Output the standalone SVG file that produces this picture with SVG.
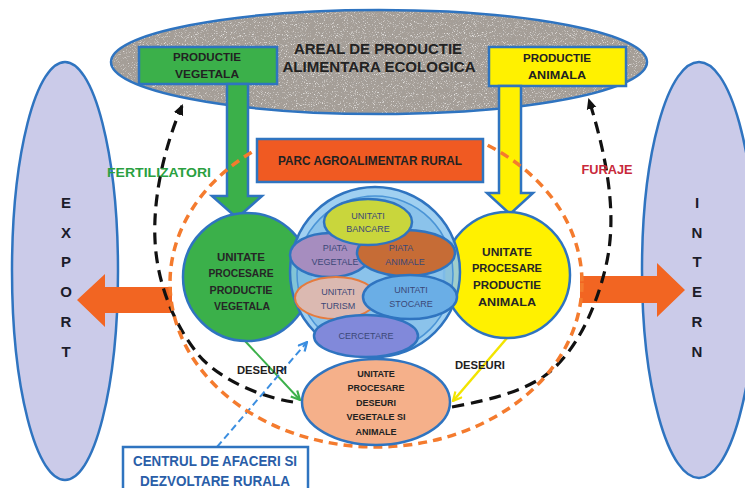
<svg xmlns="http://www.w3.org/2000/svg" width="745" height="488" viewBox="0 0 745 488">
<defs>
<style>
text{font-family:"Liberation Sans","DejaVu Sans",Arial,sans-serif;text-anchor:middle}
.b{font-weight:bold}
.dk{fill:#222}
.ln{stroke:#2f74c0;stroke-width:2.5}
.in{font-size:9px;fill:#3b4878}
.big{font-size:11px;font-weight:bold;fill:#262626}
.side{font-size:15px;font-weight:bold;fill:#1c1c2a}
.lbl{font-size:11px;font-weight:bold;fill:#1e1e1e}
.loop{fill:none;stroke:#111;stroke-width:3.2;stroke-dasharray:12 7}
</style>
<filter id="speckle" x="0" y="0" width="1" height="1">
<feTurbulence type="fractalNoise" baseFrequency="1.1" numOctaves="2" seed="7" result="noise"/>
<feColorMatrix in="noise" type="matrix" values="0 0 0 0 0.36  0 0 0 0 0.34  0 0 0 0 0.32  4 0 0 0 -2.1" result="dark"/>
<feColorMatrix in="noise" type="matrix" values="0 0 0 0 0.8  0 0 0 0 0.78  0 0 0 0 0.76  -4 0 0 0 1.7" result="light"/>
<feMerge result="m"><feMergeNode in="SourceGraphic"/><feMergeNode in="dark"/><feMergeNode in="light"/></feMerge>
<feComposite in="m" in2="SourceGraphic" operator="in"/>
</filter>
<clipPath id="parcClip"><path clip-rule="evenodd" d="M0,0H745V488H0Z M257,0H483V182H257Z"/></clipPath>
<marker id="ahBlack" viewBox="0 0 10 10" refX="8" refY="5" markerWidth="11" markerHeight="11" orient="auto" markerUnits="userSpaceOnUse"><path d="M0,0.5 L10,5 L0,9.5 Z" fill="#111"/></marker>
<marker id="ahGreen" viewBox="0 0 10 10" refX="9" refY="5" markerWidth="11" markerHeight="11" orient="auto" markerUnits="userSpaceOnUse"><path d="M1,1 L9,5 L1,9" fill="none" stroke="#3bb04a" stroke-width="2"/></marker>
<marker id="ahYellow" viewBox="0 0 10 10" refX="9" refY="5" markerWidth="11" markerHeight="11" orient="auto" markerUnits="userSpaceOnUse"><path d="M1,1 L9,5 L1,9" fill="none" stroke="#f2e400" stroke-width="2"/></marker>
<marker id="ahBlue" viewBox="0 0 10 10" refX="9" refY="5" markerWidth="11" markerHeight="11" orient="auto" markerUnits="userSpaceOnUse"><path d="M1,1 L9,5 L1,9" fill="none" stroke="#3b8ee0" stroke-width="2"/></marker>
</defs>
<rect width="745" height="488" fill="#fff"/>

<g id="export">
<ellipse cx="65" cy="271" rx="53" ry="209" fill="#cbcbe9" class="ln" stroke-width="2"/>
<text class="side" x="66" y="208">E</text>
<text class="side" x="66" y="238">X</text>
<text class="side" x="66" y="267">P</text>
<text class="side" x="66" y="297">O</text>
<text class="side" x="66" y="327">R</text>
<text class="side" x="66" y="357">T</text>
</g>
<g id="intern">
<ellipse cx="699" cy="270" rx="57" ry="208" fill="#cbcbe9" class="ln" stroke-width="2"/>
<text class="side" x="697" y="208">I</text>
<text class="side" x="697" y="238">N</text>
<text class="side" x="697" y="267">T</text>
<text class="side" x="697" y="297">E</text>
<text class="side" x="697" y="327">R</text>
<text class="side" x="697" y="357">N</text>
</g>

<g id="areal">
<ellipse cx="379" cy="62" rx="268" ry="52" fill="#a59e97" filter="url(#speckle)"/>
<ellipse cx="379" cy="62" rx="268" ry="52" fill="none" class="ln"/>
<text class="b dk" x="378" y="54" font-size="14" textLength="168" lengthAdjust="spacingAndGlyphs">AREAL DE PRODUCTIE</text>
<text class="b dk" x="379" y="72" font-size="14" textLength="193" lengthAdjust="spacingAndGlyphs">ALIMENTARA ECOLOGICA</text>
</g>
<g id="productie-vegetala">
<rect x="139" y="47" width="138" height="37" fill="#3bb04a" class="ln"/>
<text class="b dk" x="207" y="61" font-size="10.5" textLength="68" lengthAdjust="spacingAndGlyphs">PRODUCTIE</text>
<text class="b dk" x="207" y="78" font-size="10.5" textLength="64" lengthAdjust="spacingAndGlyphs">VEGETALA</text>
</g>
<g id="productie-animala">
<rect x="489" y="47" width="137" height="39" fill="#fff100" class="ln"/>
<text class="b dk" x="557" y="62" font-size="10.5" textLength="68" lengthAdjust="spacingAndGlyphs">PRODUCTIE</text>
<text class="b dk" x="557" y="79" font-size="10.5" textLength="58" lengthAdjust="spacingAndGlyphs">ANIMALA</text>
</g>

<g id="connectors">
<polygon points="227,84 248,84 248,196 262,196 237,218 212,196 227,196" fill="#3bb04a" class="ln" stroke-width="2"/>
<polygon points="499,86 521,86 521,193 533,193 510,214 487,193 499,193" fill="#fff100" class="ln" stroke-width="2"/>
<polygon points="172,287 105,287 105,274 77,300 105,327 105,313 172,313" fill="#f26522"/>
<polygon points="580,276 657,276 657,263 685,290 657,317 657,303 580,303" fill="#f26522"/>
<path class="loop" d="M293,402 C255,396 215,376 197,353 C175,325 157,285 155,240 C153,200 163,150 182,106" marker-end="url(#ahBlack)"/>
<path class="loop" d="M452,407 C490,400 520,392 543,377 C575,355 595,310 605,270 C615,230 614,180 589,100" marker-end="url(#ahBlack)"/>
<line x1="245" y1="341" x2="300" y2="400" stroke="#3bb04a" stroke-width="2" marker-end="url(#ahGreen)"/>
<line x1="507" y1="338" x2="453" y2="401" stroke="#f2e400" stroke-width="2.5" marker-end="url(#ahYellow)"/>
<line x1="217" y1="447" x2="307" y2="342" stroke="#3b8ee0" stroke-width="2" stroke-dasharray="7 4" marker-end="url(#ahBlue)"/>
</g>

<g id="parc-boundary">
<ellipse cx="376" cy="283" rx="206" ry="164" fill="none" stroke="#f47b2e" stroke-width="3.5" stroke-dasharray="9 6" clip-path="url(#parcClip)"/>
</g>

<g id="fertilizatori"><text class="b" x="159" y="177" font-size="13" fill="#2aa040" textLength="104" lengthAdjust="spacingAndGlyphs">FERTILIZATORI</text></g>
<g id="furaje"><text class="b" x="607" y="174" font-size="13" fill="#c8283a" textLength="51" lengthAdjust="spacingAndGlyphs">FURAJE</text></g>

<g id="parc-agroalimentar">
<rect x="257" y="139" width="226" height="43" fill="#f05a22" class="ln"/>
<text class="b dk" x="370" y="165" font-size="12" textLength="184" lengthAdjust="spacingAndGlyphs">PARC AGROALIMENTAR RURAL</text>
</g>

<g id="unitate-vegetala">
<circle cx="247" cy="277" r="64" fill="#3bb04a" class="ln"/>
<text class="big" x="241" y="261" textLength="48" lengthAdjust="spacingAndGlyphs">UNITATE</text>
<text class="big" x="241" y="277" textLength="65" lengthAdjust="spacingAndGlyphs">PROCESARE</text>
<text class="big" x="241" y="294" textLength="63" lengthAdjust="spacingAndGlyphs">PRODUCTIE</text>
<text class="big" x="242" y="310" textLength="56" lengthAdjust="spacingAndGlyphs">VEGETALA</text>
</g>
<g id="unitate-animala">
<circle cx="507" cy="275" r="63" fill="#fff100" class="ln"/>
<text class="big" x="507" y="256" textLength="50" lengthAdjust="spacingAndGlyphs">UNITATE</text>
<text class="big" x="507" y="272" textLength="70" lengthAdjust="spacingAndGlyphs">PROCESARE</text>
<text class="big" x="507" y="289" textLength="68" lengthAdjust="spacingAndGlyphs">PRODUCTIE</text>
<text class="big" x="507" y="306" textLength="58" lengthAdjust="spacingAndGlyphs">ANIMALA</text>
</g>

<g id="centru-parc">
<circle cx="375" cy="272" r="85" fill="#8fc8ee" fill-opacity="0.85" class="ln"/>
<circle cx="375" cy="274" r="78" fill="#7dbbe8" fill-opacity="0.6" stroke="#4a94d6" stroke-width="1.5"/>
</g>
<g id="piata-vegetale">
<ellipse cx="330" cy="255" rx="40" ry="22" fill="#a68dbf" class="ln" stroke-width="2"/>
<text class="in" x="335" y="251">PIATA</text>
<text class="in" x="335" y="265">VEGETALE</text>
</g>
<g id="piata-animale">
<ellipse cx="406" cy="253" rx="49" ry="23" fill="#c66c36" class="ln" stroke-width="2"/>
<text class="in" x="401" y="251">PIATA</text>
<text class="in" x="405" y="265">ANIMALE</text>
</g>
<g id="unitati-bancare">
<ellipse cx="368" cy="222" rx="44" ry="23" fill="#c9d63c" class="ln" stroke-width="2"/>
<text class="in" x="368" y="219" fill="#55585a">UNITATI</text>
<text class="in" x="368" y="232" fill="#55585a">BANCARE</text>
</g>
<g id="unitati-turism">
<ellipse cx="336" cy="298" rx="41" ry="21" fill="#dbb9b1" stroke="#e57b3e" stroke-width="2"/>
<text class="in" x="338" y="295">UNITATI</text>
<text class="in" x="338" y="309">TURISM</text>
</g>
<g id="unitati-stocare">
<ellipse cx="410" cy="297" rx="47" ry="22" fill="#6aaee6" class="ln" stroke-width="2"/>
<text class="in" x="411" y="293">UNITATI</text>
<text class="in" x="411" y="307">STOCARE</text>
</g>
<g id="cercetare">
<ellipse cx="366" cy="336" rx="52" ry="21" fill="#8189da" class="ln" stroke-width="2"/>
<text class="in" x="366" y="339">CERCETARE</text>
</g>

<g id="procesare-deseuri">
<ellipse cx="376" cy="402" rx="74" ry="43" fill="#f5b08a" class="ln"/>
<text class="b dk" x="376" y="377" font-size="9">UNITATE</text>
<text class="b dk" x="376" y="391" font-size="9">PROCESARE</text>
<text class="b dk" x="376" y="406" font-size="9">DESEURI</text>
<text class="b dk" x="376" y="420" font-size="9">VEGETALE SI</text>
<text class="b dk" x="376" y="435" font-size="9">ANIMALE</text>
</g>
<g id="deseuri-labels">
<text class="lbl" x="262" y="374" textLength="50" lengthAdjust="spacingAndGlyphs">DESEURI</text>
<text class="lbl" x="480" y="369" textLength="50" lengthAdjust="spacingAndGlyphs">DESEURI</text>
</g>

<g id="centrul-afaceri">
<rect x="123" y="447" width="185" height="50" fill="#fff" class="ln"/>
<text class="b" x="215" y="466" font-size="15" fill="#2a5ea8" textLength="164" lengthAdjust="spacingAndGlyphs">CENTRUL DE AFACERI SI</text>
<text class="b" x="215" y="486" font-size="15" fill="#2a5ea8" textLength="150" lengthAdjust="spacingAndGlyphs">DEZVOLTARE RURALA</text>
</g>
</svg>
